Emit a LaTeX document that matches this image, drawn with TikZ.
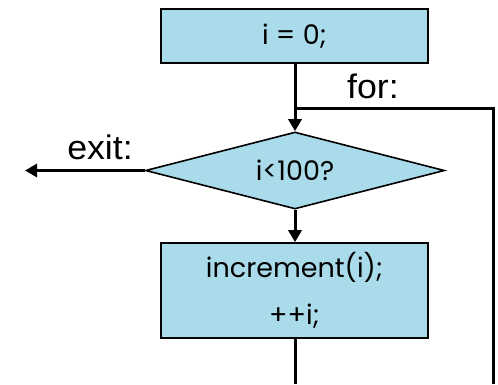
\documentclass[tikz,border=0pt]{standalone}
\usepackage{fontspec}
\setmainfont{Poppins}
\newfontfamily\labelfont{Liberation Sans}
\usetikzlibrary{arrows.meta,shapes.geometric}
\definecolor{boxblue}{RGB}{170,219,234}
\tikzset{
  procbox/.style={draw=black,line width=1.6pt,fill=boxblue,minimum width=267pt,inner sep=0pt,align=center,font=\fontsize{27}{40}\selectfont},
  decision/.style={diamond,draw=black,line width=1.6pt,fill=boxblue,minimum width=299pt,minimum height=77pt,inner sep=0pt,aspect=3.9,font=\fontsize{27}{30}\selectfont},
  flow/.style={line width=3pt},
  flowarrow/.style={flow,-{Triangle[length=12pt,width=13pt]}},
  lbl/.style={font=\labelfont\fontsize{34}{34}\selectfont,inner sep=0pt,xscale=1.05}
}
\begin{document}
\begin{tikzpicture}[x=1pt,y=-1pt]
\useasboundingbox (0,0) rectangle (498,384);
\node[procbox,minimum height=54pt] (init) at (294.5,36) {i = 0;};
\node[decision] (test) at (295,170.5) {i<100?};
\node[procbox,minimum height=95pt] (inc) at (294.5,290.5) {increment(i);\\[7pt]++i;};
\coordinate (join) at (295,108);
\coordinate (incout) at (295,384);
\coordinate (loopbot) at (493,384);
\coordinate (loopcorner) at (493,108);
\coordinate (exitend) at (25,172);
\draw[flow] (init.south -| join) -- (join);
\draw[flowarrow] (join) -- (test.north);
\draw[flowarrow] (test.south) -- (inc.north -| test.south);
\draw[flow] (inc.south -| incout) -- (incout);
\draw[flow] (loopbot) -- (loopcorner) -- (join);
\draw[flowarrow] (test.west) -- (test.west -| exitend);
\node[lbl,anchor=base] (forlbl) at (373,98) {for:};
\node[lbl,anchor=base] (exitlbl) at (100,159) {exit:};
\end{tikzpicture}
\end{document}
